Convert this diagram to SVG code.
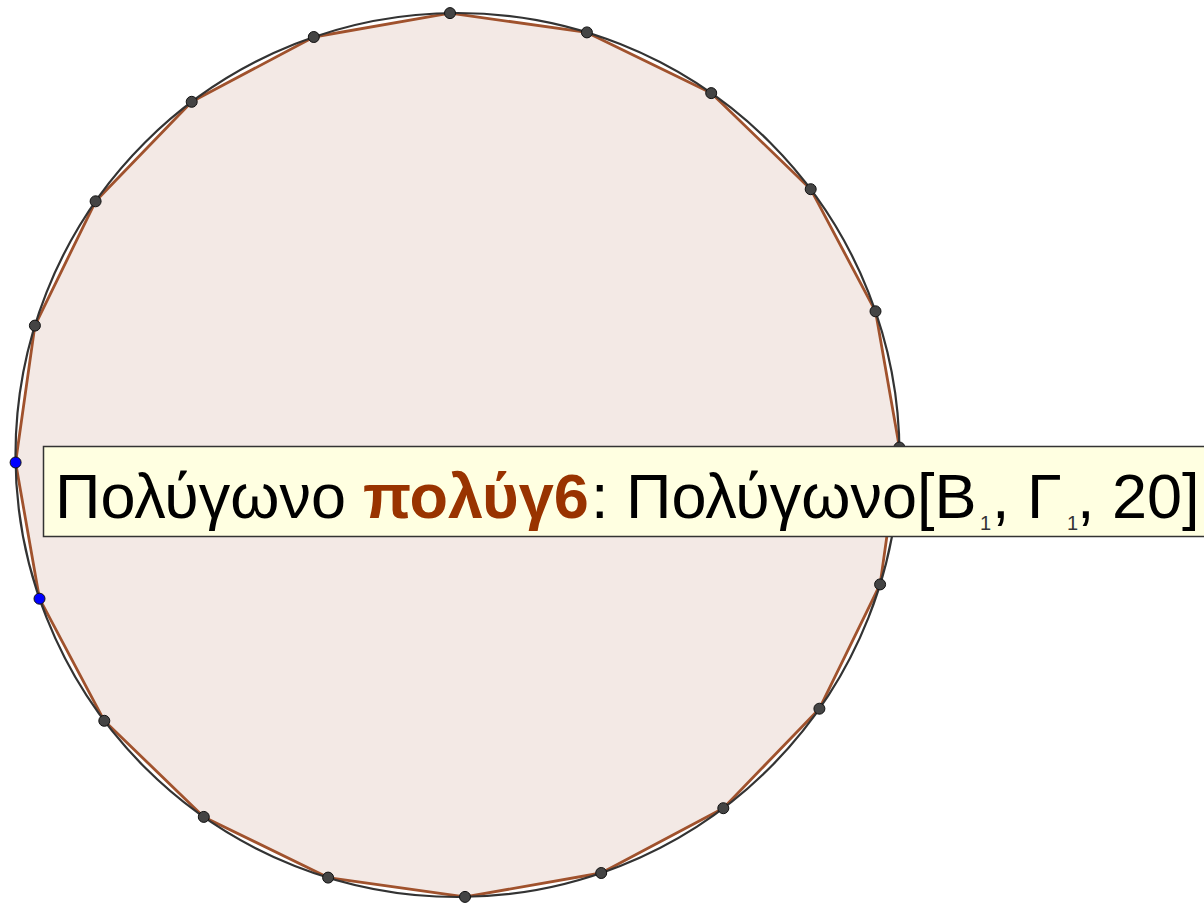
<svg xmlns="http://www.w3.org/2000/svg" width="1204" height="905" viewBox="0 0 1204 905">
<style>
.circ{fill:none;stroke:#333;stroke-width:2.2}
.poly{fill:#f3e9e5;stroke:#a0522d;stroke-width:2.8;stroke-linejoin:round}
.pt{fill:#444;stroke:#111;stroke-width:1}
.ptb{fill:#0000ff;stroke:#111;stroke-width:1}
.lbl{font-family:"Liberation Sans",Arial,sans-serif;font-size:63px;fill:#000}
.bold{font-weight:bold;fill:#993300}
.sub{font-size:20px;fill:#333}
</style>
<rect width="1204" height="905" fill="#ffffff"/>
<g id="polygon">
<polygon class="poly" points="450.0,13.1 586.9,32.4 711.2,93.1 810.7,189.2 875.5,311.3 899.4,447.5 880.1,584.4 819.4,708.7 723.3,808.2 601.2,873.0 465.0,896.9 328.1,877.6 203.8,816.9 104.3,720.8 39.5,598.7 15.6,462.5 34.9,325.6 95.6,201.3 191.7,101.8 313.8,37.0"/>
</g>
<g id="circle">
<circle class="circ" cx="457.5" cy="455" r="442"/>
</g>
<g id="points">
<circle class="pt" cx="450.0" cy="13.1" r="5.5"/>
<circle class="pt" cx="586.9" cy="32.4" r="5.5"/>
<circle class="pt" cx="711.2" cy="93.1" r="5.5"/>
<circle class="pt" cx="810.7" cy="189.2" r="5.5"/>
<circle class="pt" cx="875.5" cy="311.3" r="5.5"/>
<circle class="pt" cx="899.4" cy="447.5" r="5.5"/>
<circle class="pt" cx="880.1" cy="584.4" r="5.5"/>
<circle class="pt" cx="819.4" cy="708.7" r="5.5"/>
<circle class="pt" cx="723.3" cy="808.2" r="5.5"/>
<circle class="pt" cx="601.2" cy="873.0" r="5.5"/>
<circle class="pt" cx="465.0" cy="896.9" r="5.5"/>
<circle class="pt" cx="328.1" cy="877.6" r="5.5"/>
<circle class="pt" cx="203.8" cy="816.9" r="5.5"/>
<circle class="pt" cx="104.3" cy="720.8" r="5.5"/>
<circle class="ptb" cx="39.5" cy="598.7" r="5.5"/>
<circle class="ptb" cx="15.6" cy="462.5" r="5.5"/>
<circle class="pt" cx="34.9" cy="325.6" r="5.5"/>
<circle class="pt" cx="95.6" cy="201.3" r="5.5"/>
<circle class="pt" cx="191.7" cy="101.8" r="5.5"/>
<circle class="pt" cx="313.8" cy="37.0" r="5.5"/>
</g>
<g id="tooltip">
<rect x="43.5" y="446.5" width="1170" height="90" fill="#ffffe1" stroke="#333" stroke-width="1.5"/>
<text class="lbl" y="518"><tspan x="55">Πολύγωνο </tspan><tspan class="bold" x="363">πολύγ6</tspan><tspan x="591">: Πολύγωνο[B</tspan><tspan class="sub" x="980" y="530">1</tspan><tspan x="992" y="518">, Γ</tspan><tspan class="sub" x="1067" y="530">1</tspan><tspan x="1077" y="518">, 20]</tspan></text>
</g>
</svg>
